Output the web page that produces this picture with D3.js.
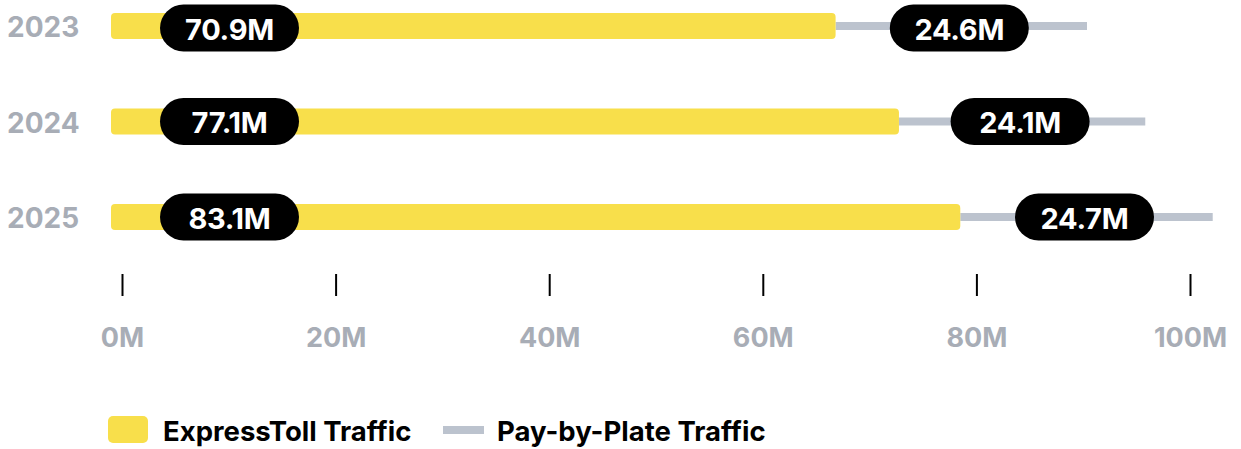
<!DOCTYPE html>
<html>
<head>
<meta charset="utf-8">
<script src="https://cdn.jsdelivr.net/npm/d3@7"></script>
<style>
  body { margin: 0; background: #fff; }
  svg { display: block; font-family: Inter, "Noto Sans", sans-serif; }
</style>
</head>
<body>
<svg id="chart"></svg>
<script>
const years = ["2023", "2024", "2025"];
const expressToll = [70.9, 77.1, 83.1];
const payByPlate = [24.6, 24.1, 24.7];
const axisTicks = [0, 20, 40, 60, 80, 100];
const legendLabels = ["ExpressToll Traffic", "Pay-by-Plate Traffic"];

const width = 1241;
const height = 449;

const yellow = "#f8df4b";
const grey = "#bcc3ce";
const labelGrey = "#a8adb6";

const svg = d3.select("#chart")
  .attr("width", width)
  .attr("height", height);

const x = d3.scaleLinear()
  .domain([0, 100])
  .range([111, 1133]);

const y = d3.scalePoint()
  .domain(years)
  .range([26, 217]);

// axis sits on its own scale below the bars
const xAxisScale = d3.scaleLinear()
  .domain([0, 100])
  .range([122, 1190]);

const rows = years.map((yr, i) => ({
  year: yr,
  express: expressToll[i],
  plate: payByPlate[i]
}));

// year labels
svg.append("g")
  .selectAll("text")
  .data(rows)
  .join("text")
  .attr("x", 7)
  .attr("y", d => y(d.year) + 1)
  .attr("dominant-baseline", "central")
  .attr("font-size", "28px")
  .attr("font-weight", 700)
  .attr("fill", labelGrey)
  .text(d => d.year);

// pay-by-plate line
svg.append("g")
  .selectAll("line")
  .data(rows)
  .join("line")
  .attr("x1", d => x(d.express))
  .attr("x2", d => x(d.express + d.plate))
  .attr("y1", d => y(d.year))
  .attr("y2", d => y(d.year))
  .attr("stroke", grey)
  .attr("stroke-width", 8);

// expresstoll bars
const barH = 26;
svg.append("g")
  .selectAll("rect")
  .data(rows)
  .join("rect")
  .attr("x", x(0))
  .attr("y", d => y(d.year) - barH / 2)
  .attr("width", d => x(d.express) - x(0))
  .attr("height", barH)
  .attr("rx", 4)
  .attr("fill", yellow);

// pill labels
const pillW = 139;
const pillH = 47;

function pill(g, cx, cy, txt) {
  g.append("rect")
    .attr("x", cx - pillW / 2)
    .attr("y", cy - pillH / 2)
    .attr("width", pillW)
    .attr("height", pillH)
    .attr("rx", pillH / 2)
    .attr("fill", "#000");
  g.append("text")
    .attr("x", cx)
    .attr("y", cy + 1)
    .attr("text-anchor", "middle")
    .attr("dominant-baseline", "central")
    .attr("font-size", "29px")
    .attr("font-weight", 700)
    .attr("letter-spacing", "-0.3px")
    .attr("fill", "#fff")
    .text(txt);
}

const pills = svg.append("g");
rows.forEach(d => {
  pill(pills, x(0) + 49 + pillW / 2, y(d.year) + (d.year === "2023" ? 2 : 0), d.express + "M");
  const mid = (x(d.express) + x(d.express + d.plate)) / 2;
  pill(pills, mid - 2, y(d.year) + (d.year === "2023" ? 2 : 0), d.plate + "M");
});

// x axis
const xAxis = d3.axisBottom(xAxisScale)
  .tickValues(axisTicks)
  .tickSize(22)
  .tickPadding(32)
  .tickFormat(d => d + "M");

const axisG = svg.append("g")
  .attr("transform", "translate(0, 274)")
  .call(xAxis);

axisG.select(".domain").remove();
axisG.selectAll(".tick line")
  .attr("stroke", "#000")
  .attr("stroke-width", 2);
axisG.selectAll(".tick text")
  .attr("font-family", "Inter, sans-serif")
  .attr("font-size", "27px")
  .attr("font-weight", 700)
  .attr("fill", labelGrey);

// legend
const legend = svg.append("g");

legend.append("rect")
  .attr("x", 108)
  .attr("y", 416)
  .attr("width", 40)
  .attr("height", 27)
  .attr("rx", 5)
  .attr("fill", yellow);

legend.append("text")
  .attr("x", 163)
  .attr("y", 431)
  .attr("dominant-baseline", "central")
  .attr("font-size", "27.5px")
  .attr("font-weight", 700)
  .attr("fill", "#000")
  .text(legendLabels[0]);

legend.append("line")
  .attr("x1", 443)
  .attr("x2", 484)
  .attr("y1", 430)
  .attr("y2", 430)
  .attr("stroke", grey)
  .attr("stroke-width", 8);

legend.append("text")
  .attr("x", 497)
  .attr("y", 431)
  .attr("dominant-baseline", "central")
  .attr("font-size", "27.5px")
  .attr("font-weight", 700)
  .attr("fill", "#000")
  .text(legendLabels[1]);
</script>
</body>
</html>
